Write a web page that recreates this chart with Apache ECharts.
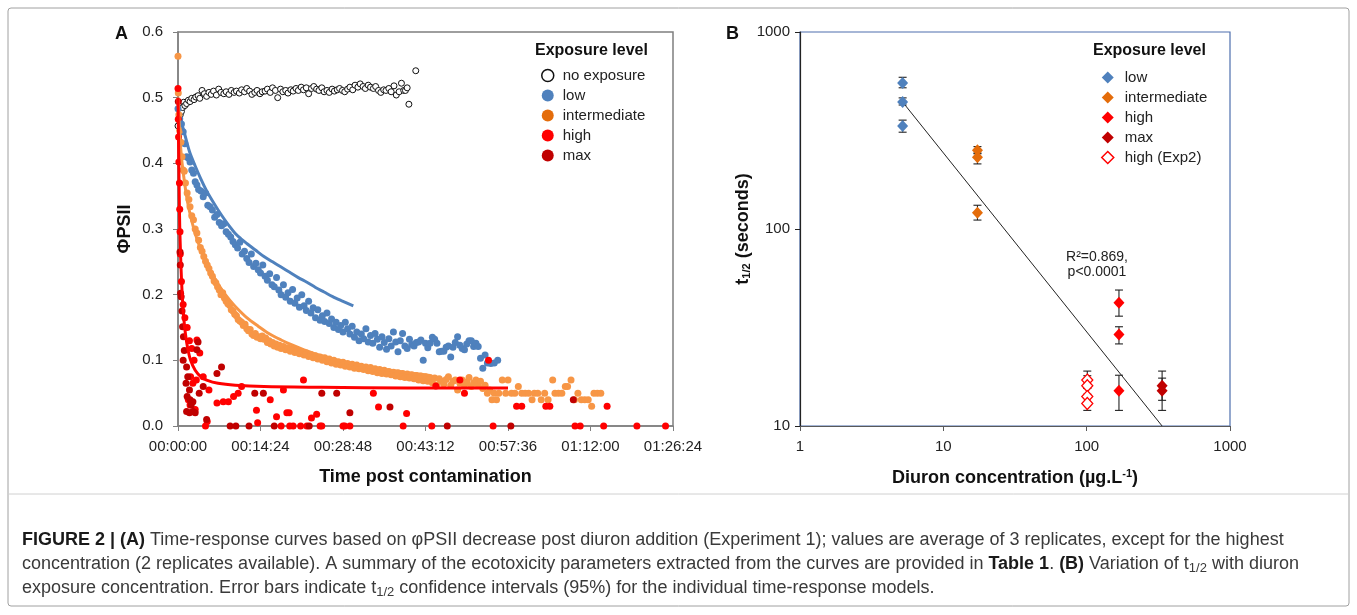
<!DOCTYPE html>
<html>
<head>
<meta charset="utf-8">
<title>Figure 2</title>
<script src="https://cdn.jsdelivr.net/npm/echarts@6/dist/echarts.min.js"></script>
<style>
  html, body { margin: 0; padding: 0; background: #fff; }
  #chart { width: 1357px; height: 615px; }
</style>
</head>
<body>
<div id="chart"></div>
<script>
// ---- panel A : time post contamination (minutes) vs PhiPSII ----
const noExposure = [[0,0.457],[0.2,0.466],[0.4,0.474],[0.6,0.479],[0.8,0.485],[1.0,0.493],[1.2,0.488],[1.5,0.491],[1.8,0.496],[2.1,0.494],[2.4,0.499],[2.8,0.497],[3.1,0.501],[3.5,0.503],[3.8,0.499],[4.2,0.511],[4.6,0.506],[5.0,0.502],[5.4,0.508],[5.8,0.505],[6.2,0.51],[6.7,0.504],[7.1,0.513],[7.5,0.508],[8.0,0.506],[8.4,0.509],[8.9,0.505],[9.3,0.511],[9.8,0.508],[10.2,0.51],[10.7,0.507],[11.1,0.512],[11.6,0.509],[12.0,0.514],[12.5,0.51],[12.9,0.505],[13.4,0.508],[13.8,0.511],[14.3,0.506],[14.7,0.509],[15.2,0.51],[15.6,0.513],[16.1,0.508],[16.5,0.515],[17.0,0.511],[17.4,0.5],[17.9,0.513],[18.3,0.509],[18.8,0.511],[19.2,0.507],[19.7,0.512],[20.1,0.51],[20.6,0.514],[21.0,0.511],[21.5,0.516],[21.9,0.512],[22.4,0.515],[22.8,0.506],[23.3,0.514],[23.7,0.517],[24.2,0.513],[24.6,0.511],[25.1,0.515],[25.5,0.509],[26.0,0.511],[26.4,0.508],[26.9,0.513],[27.3,0.51],[27.8,0.512],[28.2,0.514],[28.7,0.511],[29.1,0.509],[29.6,0.513],[30.0,0.516],[30.5,0.512],[30.9,0.519],[31.4,0.516],[31.8,0.521],[32.3,0.517],[32.7,0.514],[33.2,0.519],[33.6,0.516],[34.1,0.514],[34.5,0.517],[35.0,0.511],[35.4,0.508],[35.9,0.512],[36.3,0.511],[36.8,0.514],[37.2,0.509],[37.7,0.518],[38.1,0.504],[38.6,0.509],[39.0,0.522],[39.4,0.511],[39.7,0.511],[40.0,0.515],[40.3,0.49],[41.5,0.541]];

const lowPts = [[0,0.483],[0.3,0.468],[0.6,0.46],[0.9,0.448],[1.2,0.43],[1.5,0.41],[1.8,0.408],[2.1,0.402],[2.4,0.39],[2.7,0.385],[3.0,0.372],[3.3,0.367],[3.6,0.36],[4.0,0.358],[4.4,0.349],[4.8,0.355],[5.2,0.336],[5.6,0.334],[6.0,0.329],[6.4,0.318],[6.8,0.322],[7.2,0.31],[7.6,0.305],[8.0,0.308],[8.4,0.296],[8.8,0.292],[9.2,0.288],[9.6,0.281],[10.0,0.276],[10.4,0.271],[10.8,0.28],[11.2,0.262],[11.6,0.266],[12.0,0.255],[12.4,0.249],[12.8,0.262],[13.2,0.243],[13.6,0.248],[14.0,0.238],[14.4,0.233],[14.8,0.245],[15.2,0.228],[15.6,0.222],[16.0,0.232],[16.4,0.215],[16.8,0.212],[17.2,0.226],[17.6,0.207],[18.0,0.2],[18.4,0.215],[18.8,0.196],[19.2,0.203],[19.6,0.19],[20.0,0.208],[20.4,0.187],[20.8,0.195],[21.2,0.181],[21.6,0.2],[22.0,0.183],[22.4,0.176],[22.8,0.19],[23.2,0.172],[23.6,0.18],[24.0,0.165],[24.4,0.177],[24.8,0.161],[25.2,0.168],[25.6,0.159],[26.0,0.172],[26.4,0.156],[26.8,0.163],[27.2,0.15],[27.6,0.158],[28.0,0.147],[28.4,0.153],[28.8,0.143],[29.2,0.158],[29.6,0.148],[30.0,0.14],[30.4,0.152],[30.8,0.135],[31.2,0.143],[31.6,0.13],[32.0,0.14],[32.4,0.133],[32.8,0.148],[33.2,0.128],[33.6,0.138],[34.0,0.126],[34.4,0.141],[34.8,0.132],[35.2,0.12],[35.6,0.136],[36.0,0.127],[36.4,0.117],[36.8,0.133],[37.2,0.122],[37.6,0.143],[38.0,0.128],[38.4,0.113],[38.8,0.13],[39.2,0.141],[39.6,0.122],[40.0,0.118],[40.4,0.132],[40.8,0.124],[41.2,0.122],[41.6,0.127],[42.0,0.128],[42.4,0.131],[42.8,0.1],[43.2,0.126],[43.6,0.119],[44.0,0.126],[44.4,0.135],[44.8,0.132],[45.2,0.126],[45.6,0.113],[46.0,0.114],[46.4,0.114],[46.8,0.12],[47.2,0.122],[47.6,0.105],[48.0,0.12],[48.4,0.127],[48.8,0.136],[49.2,0.123],[49.6,0.118],[50.0,0.116],[50.4,0.125],[50.8,0.13],[51.2,0.13],[51.6,0.121],[52.0,0.126],[52.4,0.121],[52.8,0.103],[53.2,0.088],[53.6,0.108],[54.0,0.096],[54.6,0.095],[55.2,0.096],[55.8,0.1]];

const intermediatePts = [[0,0.563],[0.05,0.507],[0.15,0.474],[0.3,0.45],[0.5,0.432],[0.7,0.41],[0.9,0.39],[1.1,0.388],[1.3,0.37],[1.6,0.355],[1.9,0.345],[2.1,0.334],[2.4,0.32],[2.7,0.314],[3.0,0.3],[3.3,0.294],[3.6,0.283],[3.9,0.272],[4.2,0.266],[4.5,0.258],[4.8,0.251],[5.1,0.245],[5.4,0.24],[5.7,0.233],[6.0,0.228],[6.3,0.221],[6.6,0.218],[6.9,0.212],[7.2,0.207],[7.5,0.2],[7.8,0.203],[8.1,0.195],[8.4,0.19],[8.7,0.186],[9.0,0.184],[9.3,0.177],[9.6,0.175],[9.9,0.17],[10.2,0.168],[10.5,0.162],[10.8,0.16],[11.1,0.158],[11.4,0.153],[11.7,0.155],[12.0,0.148],[12.3,0.145],[12.6,0.147],[12.9,0.14],[13.2,0.138],[13.5,0.141],[13.8,0.135],[14.1,0.136],[14.4,0.133],[14.7,0.137],[15.0,0.132],[15.3,0.134],[15.6,0.127],[15.9,0.13],[16.2,0.125],[16.5,0.127],[16.8,0.122],[17.1,0.125],[17.4,0.12],[17.7,0.123],[18.0,0.118],[18.4,0.121],[18.8,0.116],[19.2,0.119],[19.6,0.114],[20.0,0.117],[20.4,0.112],[20.8,0.115],[21.2,0.11],[21.6,0.113],[22.0,0.108],[22.4,0.111],[22.8,0.106],[23.2,0.109],[23.6,0.104],[24.0,0.107],[24.4,0.102],[24.8,0.105],[25.2,0.1],[25.6,0.104],[26.0,0.098],[26.4,0.102],[26.8,0.096],[27.2,0.1],[27.6,0.094],[28.0,0.098],[28.4,0.093],[28.8,0.097],[29.2,0.091],[29.6,0.095],[30.0,0.09],[30.4,0.094],[30.8,0.088],[31.2,0.093],[31.6,0.087],[32.0,0.091],[32.4,0.086],[32.8,0.09],[33.2,0.084],[33.6,0.089],[34.0,0.083],[34.4,0.087],[34.8,0.081],[35.2,0.086],[35.6,0.08],[36.0,0.085],[36.4,0.079],[36.8,0.083],[37.2,0.078],[37.6,0.082],[38.0,0.076],[38.4,0.081],[38.8,0.075],[39.2,0.08],[39.6,0.074],[40.0,0.079],[40.4,0.073],[40.8,0.078],[41.2,0.072],[41.6,0.077],[42.0,0.07],[42.4,0.076],[42.8,0.069],[43.2,0.075],[43.6,0.068],[44.0,0.074],[44.4,0.066],[44.8,0.073],[45.2,0.062],[45.6,0.072],[46.0,0.068],[46.4,0.064],[46.8,0.071],[47.2,0.075],[47.6,0.062],[48.0,0.068],[48.4,0.07],[48.8,0.055],[49.2,0.065],[49.6,0.07],[50.0,0.062],[50.4,0.067],[50.8,0.074],[51.2,0.06],[51.6,0.066],[52.0,0.07],[52.4,0.063],[52.8,0.068],[53.2,0.057],[53.6,0.062],[54.0,0.05],[54.4,0.055],[54.8,0.04],[55.2,0.05],[55.6,0.04],[56.0,0.05],[56.6,0.07],[57.2,0.05],[57.6,0.07],[58.2,0.05],[58.8,0.05],[59.4,0.06],[60.0,0.05],[60.6,0.05],[61.2,0.05],[61.8,0.04],[62.2,0.05],[62.8,0.05],[63.4,0.04],[64.0,0.05],[64.6,0.04],[65.4,0.07],[65.8,0.05],[66.4,0.05],[67.0,0.05],[67.6,0.06],[68.0,0.06],[68.6,0.07],[69.2,0.04],[69.8,0.05],[70.4,0.04],[71.0,0.04],[71.6,0.04],[72.2,0.03],[72.6,0.05],[73.2,0.05],[73.8,0.05]];

const highPts = [[0,0.514],[0.05,0.467],[0.1,0.44],[0.15,0.402],[0.25,0.37],[0.3,0.33],[0.35,0.296],[0.4,0.262],[0.6,0.22],[0.9,0.185],[1.2,0.165],[1.6,0.15],[2.0,0.13],[2.4,0.118],[2.8,0.1],[3.3,0.131],[3.8,0.111],[2.2,0.075],[2.6,0.065],[3.2,0.07],[1.8,0.04],[2.1,0.032],[3.0,0.025],[4.4,0.075],[4.8,0.0],[5.1,0.007],[5.4,0.055],[6.8,0.035],[7.9,0.037],[8.8,0.037],[9.7,0.045],[10.5,0.05],[11.1,0.06],[13.7,0.024],[13.9,0.005],[16.1,0.04],[17.2,0.014],[18.0,0.0],[18.4,0.055],[19.0,0.02],[19.4,0.02],[19.5,0.0],[20.1,0.0],[21.4,0.0],[21.9,0.07],[22.5,0.0],[23.3,0.012],[24.2,0.018],[24.8,0.0],[25.1,0.0],[28.8,0.0],[29.1,0.0],[30.0,0.0],[34.1,0.05],[35.0,0.029],[39.3,0.0],[39.9,0.019],[44.3,0.0],[45.0,0.061],[49.2,0.07],[50.0,0.05],[54.2,0.1],[55.0,0.0],[59.1,0.03],[60.0,0.03],[64.2,0.03],[64.9,0.03],[69.3,0.0],[70.2,0.0],[74.3,0.0],[74.9,0.03],[80.1,0.0],[85.1,0.0]];

const maxPts = [[0.05,0.494],[0.35,0.265],[0.4,0.245],[0.45,0.202],[0.55,0.197],[0.7,0.175],[0.8,0.151],[0.95,0.136],[1.1,0.115],[0.9,0.1],[1.5,0.09],[1.7,0.075],[1.4,0.065],[2.0,0.055],[1.6,0.045],[2.1,0.04],[2.3,0.032],[1.5,0.022],[2.0,0.02],[2.6,0.022],[3.0,0.02],[2.6,0.037],[3.7,0.05],[3.3,0.116],[3.5,0.128],[4.4,0.06],[5.0,0.01],[6.8,0.08],[7.6,0.09],[9.1,0.0],[10.1,0.0],[12.4,0.0],[13.4,0.05],[14.9,0.05],[16.8,0.0],[22.9,0.0],[25.1,0.05],[27.7,0.05],[30.0,0.02],[37.0,0.029],[47.0,0.0],[58.1,0.0],[69.0,0.04]];

// fitted time-response models
const lowFit = [[0.5,0.465],[1,0.45],[2,0.418],[3,0.396],[4,0.376],[5,0.358],[6,0.343],[7,0.329],[8,0.316],[9,0.304],[10,0.293],[11,0.285],[12,0.278],[13.5,0.268],[15,0.258],[16.5,0.25],[18,0.242],[19.5,0.234],[21,0.226],[22.5,0.219],[24,0.211],[25.5,0.204],[27,0.197],[28.5,0.191],[30.6,0.183]];
const intermediateFit = [[0,0.5],[0.3,0.445],[0.6,0.41],[1,0.38],[1.5,0.35],[2,0.327],[3,0.293],[4,0.268],[5,0.248],[6,0.231],[7,0.216],[8,0.203],[9,0.192],[10,0.182],[12,0.165],[14,0.152],[16,0.14],[18,0.131],[20,0.123],[22,0.116],[25,0.107],[28,0.1],[31,0.094],[34,0.089],[37,0.085],[40,0.081],[44,0.077]];
const highFit = [[0,0.5],[0.1,0.43],[0.2,0.36],[0.3,0.305],[0.45,0.26],[0.6,0.225],[0.8,0.19],[1.0,0.165],[1.3,0.14],[1.7,0.118],[2.2,0.1],[3,0.085],[4,0.075],[5,0.07],[7,0.065],[10,0.062],[15,0.06],[25,0.059],[40,0.058],[57.6,0.058]];

// ---- panel B : diuron concentration vs t1/2 (seconds) ----
const lowConc = 5.2, lowT = [551, 441, 333], lowCI = [[521, 589], [426, 463], [310, 357]];
const interConc = 17.3, interT = [251, 231, 121], interCI = [[241, 262], [214, 243], [111, 132]];
const highConc = 168, highT = [42.2, 29.1, 15.1], highCI = [[36.1, 49], [26.1, 31.9], [12.0, 18.1]];
const maxConc = 336, maxT = [16.0, 15.1], maxCI = [[13.5, 19.0], [12.0, 17.5]];
const exp2Conc = 101, exp2T = [17.1, 16.0, 14.1, 13.0], exp2CI = [[15.5, 19.0], [14.5, 18.0], [12.8, 15.6], [12.0, 14.3]];
const regression = [[5.2, 441], [336, 10]];

const FONT = '"Liberation Sans", Arial, sans-serif';
const NARROW = '"Liberation Sans Narrow", "Liberation Sans", sans-serif';

function pts(conc, ts) { return ts.map(t => [conc, t]); }
function bars(conc, cis) { return cis.map(c => [conc, c[0], c[1]]); }

function hms(v) {
  const s = Math.round(v * 60);
  const p = n => String(n).padStart(2, '0');
  return p(Math.floor(s / 3600)) + ':' + p(Math.floor(s / 60) % 60) + ':' + p(s % 60);
}

function errorBar(params, api) {
  const x = api.value(0);
  const lo = api.coord([x, api.value(1)]);
  const hi = api.coord([x, api.value(2)]);
  const h = 4;
  const style = { stroke: '#222', lineWidth: 1.1 };
  return {
    type: 'group',
    children: [
      { type: 'line', shape: { x1: lo[0], y1: lo[1], x2: hi[0], y2: hi[1] }, style },
      { type: 'line', shape: { x1: hi[0] - h, y1: hi[1], x2: hi[0] + h, y2: hi[1] }, style },
      { type: 'line', shape: { x1: lo[0] - h, y1: lo[1], x2: lo[0] + h, y2: lo[1] }, style }
    ]
  };
}

const chart = echarts.init(document.getElementById('chart'));

const dot = (name, data, color) => ({
  type: 'scatter', name, data, xAxisIndex: 0, yAxisIndex: 0,
  symbol: 'circle', symbolSize: 7, itemStyle: { color, opacity: 1 },
  emphasis: { disabled: true }
});
const fit = (name, data, color, width) => ({
  type: 'line', name, data, xAxisIndex: 0, yAxisIndex: 0,
  showSymbol: false, smooth: 0.3, z: 5, lineStyle: { color, width },
  emphasis: { disabled: true }
});
const diamond = (name, data, color, border) => ({
  type: 'scatter', name, data, xAxisIndex: 1, yAxisIndex: 1, z: 4,
  symbol: 'diamond', symbolSize: [11, 12],
  itemStyle: border ? { color: '#fff', borderColor: color, borderWidth: 1.3, opacity: 1 } : { color, opacity: 1 },
  emphasis: { disabled: true }
});

const caption = [
  '{b|FIGURE 2 | (A)} Time-response curves based on φPSII decrease post diuron addition (Experiment 1); values are average of 3 replicates, except for the highest',
  'concentration (2 replicates available). A summary of the ecotoxicity parameters extracted from the curves are provided in {b|Table 1}. {b|(B)} Variation of t{s|1/2} with diuron',
  'exposure concentration. Error bars indicate t{s|1/2} confidence intervals (95%) for the individual time-response models.'
].join('\n');

chart.setOption({
  animation: false,
  backgroundColor: '#fff',
  textStyle: { fontFamily: FONT },
  grid: [
    { left: 178, top: 32, width: 495, height: 394, show: true, borderColor: '#7f7f7f', borderWidth: 1.5 },
    { left: 800, top: 32, width: 430, height: 394, show: true, borderColor: '#4e6fae', borderWidth: 1.2 }
  ],
  xAxis: [
    {
      gridIndex: 0, type: 'value', min: 0, max: 86.4, interval: 14.4,
      axisLine: { onZero: false, lineStyle: { color: '#808080', width: 1.5 } },
      axisTick: { length: 5, lineStyle: { color: '#808080' } },
      axisLabel: { formatter: hms, color: '#222', fontSize: 15, margin: 13 },
      splitLine: { show: false },
      name: 'Time post contamination', nameLocation: 'middle', nameGap: 42,
      nameTextStyle: { fontWeight: 'bold', fontSize: 18, color: '#111' }
    },
    {
      gridIndex: 1, type: 'log', logBase: 10, min: 1, max: 1000,
      axisLine: { onZero: false, lineStyle: { color: '#595959', width: 1.2 } },
      axisTick: { length: 5, lineStyle: { color: '#595959' } },
      axisLabel: { color: '#222', fontSize: 15, margin: 13, formatter: v => String(Math.round(v)) },
      splitLine: { show: false }, minorTick: { show: false },
      name: '{n|Diuron concentration (µg.L}{sup|-1}{n|)}', nameLocation: 'middle', nameGap: 42,
      nameTextStyle: {
        rich: {
          n: { fontWeight: 'bold', fontSize: 18, color: '#111' },
          sup: { fontWeight: 'bold', fontSize: 11, color: '#111', padding: [0, 0, 10, 0] }
        }
      }
    }
  ],
  yAxis: [
    {
      gridIndex: 0, type: 'value', min: 0, max: 0.6, interval: 0.1,
      axisLine: { show: true, onZero: false, lineStyle: { color: '#808080', width: 1.5 } },
      axisTick: { show: true, length: 5, lineStyle: { color: '#808080' } },
      axisLabel: { formatter: v => v.toFixed(1), color: '#222', fontSize: 15, margin: 15 },
      splitLine: { show: false },
      name: 'ΦPSII', nameLocation: 'middle', nameGap: 44, nameRotate: 90,
      nameTextStyle: { fontWeight: 'bold', fontSize: 18, color: '#111' }
    },
    {
      gridIndex: 1, type: 'log', logBase: 10, min: 10, max: 1000,
      axisLine: { show: true, onZero: false, lineStyle: { color: '#222', width: 1.2 } },
      axisTick: { show: true, length: 5, lineStyle: { color: '#222' } },
      axisLabel: { color: '#222', fontSize: 15, margin: 10, formatter: v => String(Math.round(v)) },
      splitLine: { show: false }, minorTick: { show: false },
      name: '{n|t}{s|1/2}{n| (seconds)}', nameLocation: 'middle', nameGap: 42, nameRotate: 90,
      nameTextStyle: {
        rich: {
          n: { fontWeight: 'bold', fontSize: 18, color: '#111' },
          s: { fontWeight: 'bold', fontSize: 11, color: '#111', padding: [9, 0, 0, 0] }
        }
      }
    }
  ],
  legend: [
    {
      left: 536, top: 63, orient: 'vertical', itemGap: 5, itemWidth: 12, itemHeight: 12,
      textStyle: { fontSize: 15, color: '#222', lineHeight: 15, padding: [0, 0, 0, 4] },
      selectedMode: false,
      data: [
        { name: 'no exposure', icon: 'circle', itemStyle: { color: '#fff', borderColor: '#111', borderWidth: 1.5 } },
        { name: 'low', icon: 'circle', itemStyle: { color: '#4f81bd' } },
        { name: 'intermediate', icon: 'circle', itemStyle: { color: '#e46c0a' } },
        { name: 'high', icon: 'circle', itemStyle: { color: '#ff0000' } },
        { name: 'max', icon: 'circle', itemStyle: { color: '#c00000' } }
      ]
    },
    {
      left: 1096, top: 65, orient: 'vertical', itemGap: 5, itemWidth: 12, itemHeight: 12,
      textStyle: { fontSize: 15, color: '#222', lineHeight: 15, padding: [0, 0, 0, 6] },
      selectedMode: false,
      data: [
        { name: 'low', icon: 'diamond', itemStyle: { color: '#4f81bd' } },
        { name: 'intermediate', icon: 'diamond', itemStyle: { color: '#e46c0a' } },
        { name: 'high', icon: 'diamond', itemStyle: { color: '#ff0000' } },
        { name: 'max', icon: 'diamond', itemStyle: { color: '#c00000' } },
        { name: 'high (Exp2)', icon: 'diamond', itemStyle: { color: '#fff', borderColor: '#ff0000', borderWidth: 1.5 } }
      ]
    }
  ],
  series: [
    // panel A
    {
      type: 'scatter', name: 'no exposure', data: noExposure, xAxisIndex: 0, yAxisIndex: 0,
      symbol: 'circle', symbolSize: 6, itemStyle: { color: '#fff', borderColor: '#111', borderWidth: 1, opacity: 1 },
      emphasis: { disabled: true }
    },
    dot('low', lowPts, '#4f81bd'),
    dot('intermediate', intermediatePts, '#f79646'),
    dot('high', highPts, '#ff0000'),
    dot('max', maxPts, '#c00000'),
    fit('low fit', lowFit, '#4f81bd', 3),
    fit('intermediate fit', intermediateFit, '#f79646', 3),
    fit('high fit', highFit, '#ff0000', 3),
    // panel B
    {
      type: 'custom', name: 'CI', xAxisIndex: 1, yAxisIndex: 1, z: 3,
      renderItem: errorBar, encode: { x: 0, y: [1, 2] },
      data: [].concat(bars(lowConc, lowCI), bars(interConc, interCI), bars(highConc, highCI), bars(maxConc, maxCI), bars(exp2Conc, exp2CI))
    },
    {
      type: 'line', name: 'regression', data: regression, xAxisIndex: 1, yAxisIndex: 1,
      showSymbol: false, z: 3, lineStyle: { color: '#222', width: 1 }, emphasis: { disabled: true }
    },
    diamond('low', pts(lowConc, lowT), '#4f81bd'),
    diamond('intermediate', pts(interConc, interT), '#e46c0a'),
    diamond('high', pts(highConc, highT), '#ff0000'),
    diamond('max', pts(maxConc, maxT), '#c00000'),
    diamond('high (Exp2)', pts(exp2Conc, exp2T), '#ff0000', true)
  ],
  graphic: [
    { type: 'rect', shape: { x: 8, y: 8, width: 1341, height: 598, r: 3 }, style: { fill: 'none', stroke: '#a0a0a0', lineWidth: 1 }, silent: true },
    { type: 'line', shape: { x1: 8, y1: 494, x2: 1349, y2: 494 }, style: { stroke: '#d0d0d0', lineWidth: 1 }, silent: true },
    { type: 'text', x: 115, y: 34, style: { text: 'A', font: 'bold 18px ' + FONT, fill: '#111', align: 'left', verticalAlign: 'middle' } },
    { type: 'text', x: 726, y: 34, style: { text: 'B', font: 'bold 18px ' + FONT, fill: '#111', align: 'left', verticalAlign: 'middle' } },
    { type: 'text', x: 535, y: 51, style: { text: 'Exposure level', font: 'bold 16px ' + FONT, fill: '#111', align: 'left', verticalAlign: 'middle' } },
    { type: 'text', x: 1093, y: 51, style: { text: 'Exposure level', font: 'bold 16px ' + FONT, fill: '#111', align: 'left', verticalAlign: 'middle' } },
    { type: 'text', x: 1097, y: 265, style: { text: 'R²=0.869,\np<0.0001', font: '14px ' + FONT, fill: '#222', align: 'center', verticalAlign: 'middle', lineHeight: 15 } },
    {
      type: 'text', x: 22, y: 564,
      style: {
        text: caption, font: '18px ' + NARROW, fill: '#3a3a3a',
        align: 'left', verticalAlign: 'middle', lineHeight: 24,
        rich: {
          b: { fontWeight: 'bold', fill: '#1a1a1a', fontSize: 18, fontFamily: NARROW },
          s: { fontSize: 13, padding: [9, 0, 0, 0], fontFamily: NARROW, fill: '#3a3a3a' }
        }
      }
    }
  ]
});
</script>
</body>
</html>
